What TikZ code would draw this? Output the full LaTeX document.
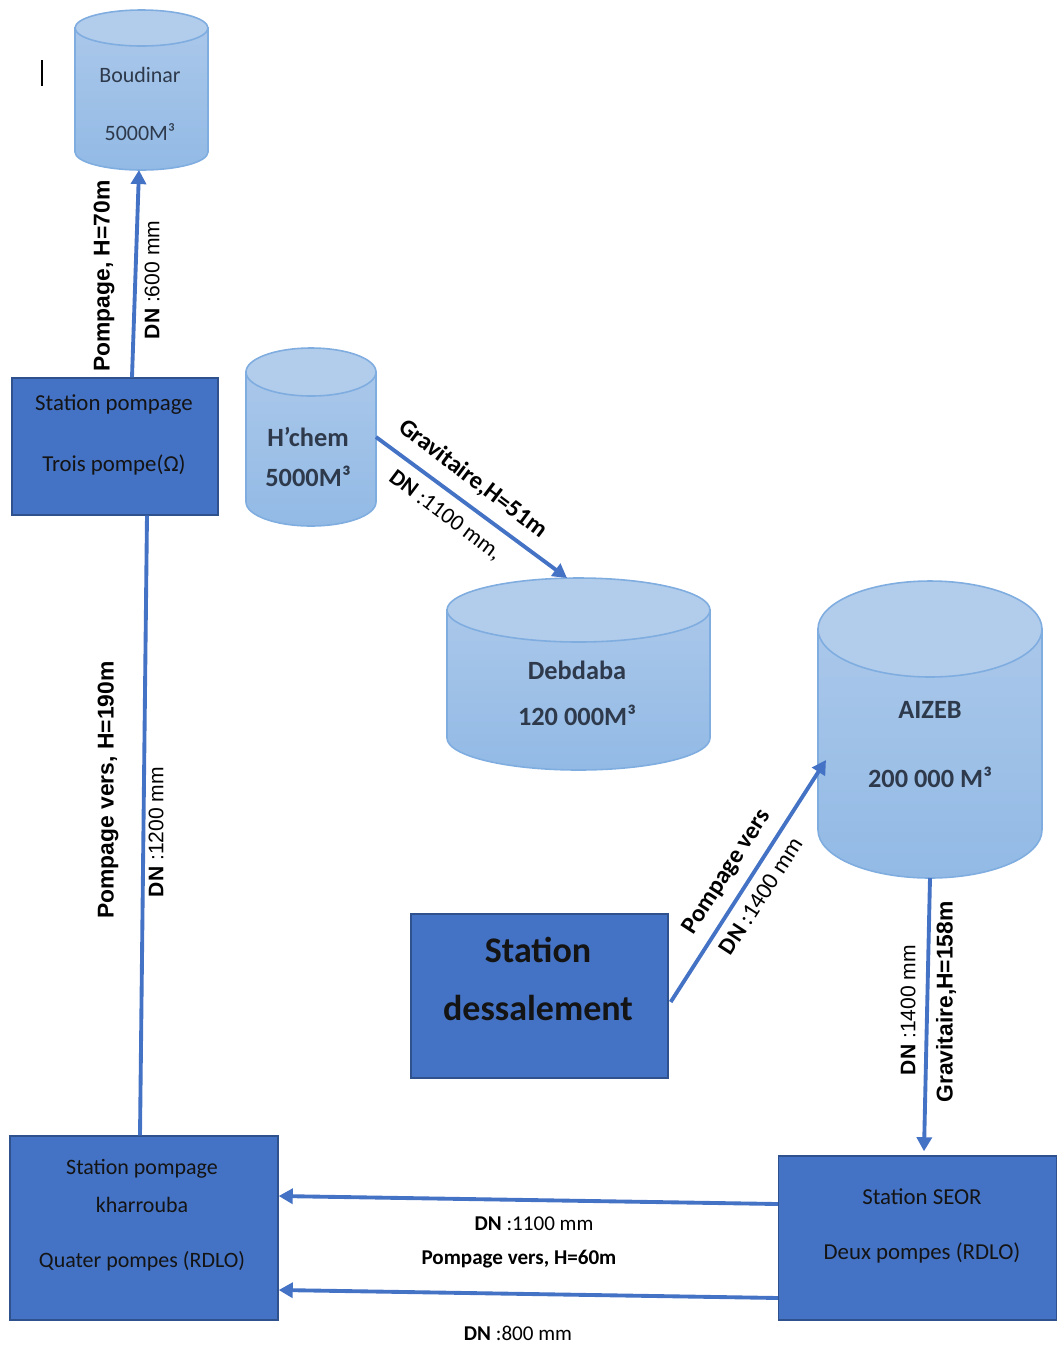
\documentclass[tikz,border=0pt]{standalone}
\usepackage{fontspec}
\setmainfont{Carlito}
\newfontfamily\arialfont{Liberation Sans}
\usetikzlibrary{arrows.meta}

\definecolor{boxblue}{HTML}{4472C4}
\definecolor{boxline}{HTML}{2F528F}
\definecolor{pipeblue}{HTML}{4472C4}
\definecolor{tanklid}{HTML}{B2CCEB}
\definecolor{tanktop}{HTML}{AAC7EA}
\definecolor{tankbot}{HTML}{92BAE5}
\definecolor{tankline}{HTML}{7FADE0}
\definecolor{tanktext}{HTML}{2E3A4C}

\tikzset{
  station/.style={draw=boxline, fill=boxblue, line width=0.8pt, inner sep=0pt},
  tankedge/.style={draw=tankline, line width=0.9pt},
  pipe/.style={draw=pipeblue, line width=2.2pt},
  flow/.style={pipe, -{Triangle[length=8pt,width=8.5pt]}},
  boxtext/.style={text=black!92, font=\fontsize{13}{15}\selectfont},
  tanktxt/.style={text=tanktext, font=\bfseries\fontsize{15}{18}\selectfont},
  vlabel/.style={rotate=90, font=\arialfont\bfseries\fontsize{13}{15}\selectfont},
  dnlabel/.style={rotate=90, font=\arialfont\fontsize{12}{14}\selectfont},
  slabel/.style={font=\fontsize{14}{16}\selectfont},
  blabel/.style={font=\fontsize{12}{14}\selectfont}
}

% name, cx, rx, y of lid, y of bottom, ry
\newcommand{\reservoir}[6]{%
  \draw[tankedge, top color=tanktop, bottom color=tankbot] (#2-#3,#4) -- (#2-#3,#5) arc (180:0:#3 and #6) -- (#2+#3,#4) -- cycle;
  \draw[tankedge, fill=tanklid] (#2,#4) ellipse (#3 and #6);
  \coordinate (#1) at (#2,{(#4+#5)/2});
  \coordinate (#1-t) at (#2,#4-#6);
  \coordinate (#1-b) at (#2,#5+#6);
  \coordinate (#1-e) at (#2+#3,{(#4+#5)/2});
  \coordinate (#1-w) at (#2-#3,{(#4+#5)/2});
}

\begin{document}
\begin{tikzpicture}[x=0.02cm, y=-0.02cm]
\useasboundingbox (0,0) rectangle (1058,1347);

\reservoir{bou}{141.5}{66.5}{28}{152}{18}
\reservoir{hch}{311}{65}{372}{502}{24}
\reservoir{deb}{578.5}{131.5}{610}{738}{32}
\reservoir{aiz}{930}{112}{629}{830}{48}

\node[station, minimum width=4.12cm, minimum height=2.74cm] (sp) at (115,446.5) {};
\node[station, minimum width=5.14cm, minimum height=3.28cm] (dess) at (539.5,996) {};
\node[station, minimum width=5.36cm, minimum height=3.68cm] (khar) at (144,1228) {};
\node[station, minimum width=5.56cm, minimum height=3.28cm] (seor) at (917.5,1238) {};

\draw[line width=0.8pt] (42,60) -- (42,86);

\node[tanktxt, font=\fontsize{12.5}{15}\selectfont] (bou-n) at (140,75) {Boudinar};
\node[tanktxt, font=\fontsize{12.5}{15}\selectfont] (bou-v) at (140,132) {5000M³};
\node[tanktxt] (hch-n) at (308,437) {H’chem};
\node[tanktxt] (hch-v) at (308,476) {5000M³};
\node[tanktxt] (deb-n) at (577,670) {Debdaba};
\node[tanktxt] (deb-v) at (577,715) {120 000M³};
\node[tanktxt] (aiz-n) at (930,710) {AIZEB};
\node[tanktxt] (aiz-v) at (930,777) {200 000 M³};

\node[boxtext] (sp-n) at (114,405) {Station pompage};
\node[boxtext] (sp-p) at (114,465) {Trois pompe(Ω)};
\node[boxtext, font=\bfseries\fontsize{20.5}{24}\selectfont] (dess-n) at (538,950) {Station};
\node[boxtext, font=\bfseries\fontsize{20.5}{24}\selectfont] (dess-p) at (538,1008) {dessalement};
\node[boxtext, font=\fontsize{12.5}{15}\selectfont] (khar-n) at (142,1169) {Station pompage};
\node[boxtext, font=\fontsize{12.5}{15}\selectfont] (khar-m) at (142,1205) {kharrouba};
\node[boxtext, font=\fontsize{12.5}{15}\selectfont] (khar-p) at (142,1261) {Quater pompes (RDLO)};
\node[boxtext] (seor-n) at (922,1197) {Station SEOR};
\node[boxtext] (seor-p) at (922,1253) {Deux pompes (RDLO)};

\draw[flow] ([xshift=0.34cm]sp.north) -- ([xshift=-0.05cm]bou-b);
\draw[pipe] ([xshift=0.64cm]sp.south) -- ([xshift=-0.08cm]khar.north);
\draw[flow] (hch-e) -- ([xshift=-0.23cm]deb-t);
\draw[flow] ([xshift=0.04cm,yshift=-0.12cm]dess.east) -- ([xshift=0.16cm,yshift=-0.61cm]aiz-w);
\draw[flow] (aiz-b) -- ([xshift=0.13cm,yshift=0.08cm]seor.north);
\draw[flow] ([yshift=0.68cm]seor.west) -- ([yshift=0.64cm]khar.east);
\draw[flow] ([yshift=-1.2cm]seor.west) -- ([yshift=-1.24cm]khar.east);

\node[vlabel] (l-bou) at (104,276) {Pompage, H=70m};
\node[dnlabel] (l-bou-dn) at (152,280) {\textbf{DN} :600 mm};
\node[vlabel] (l-khar) at (108,790) {Pompage vers, H=190m};
\node[dnlabel] (l-khar-dn) at (156,832) {\textbf{DN} :1200 mm};
\node[dnlabel] (l-seor-dn) at (908,1010) {\textbf{DN} :1400 mm};
\node[vlabel] (l-seor) at (946,1002) {Gravitaire,H=158m};
\node[slabel, rotate=-37] (l-hch) at (473,479) {\bfseries Gravitaire,H=51m};
\node[slabel, rotate=-37, font=\fontsize{13}{15}\selectfont] (l-hch-dn) at (445,516) {\textbf{DN} :1100 mm,};
\node[slabel, rotate=57] (l-dess) at (727,872) {\bfseries Pompage vers};
\node[slabel, rotate=57, font=\fontsize{13.5}{15}\selectfont] (l-dess-dn) at (761,896) {\textbf{DN} :1400 mm};
\node[blabel] (l-b1) at (534,1224) {\textbf{DN} :1100 mm};
\node[blabel] (l-b2) at (519,1259) {\bfseries Pompage vers, H=60m};
\node[blabel] (l-b3) at (518,1333) {\textbf{DN} :800 mm};
\end{tikzpicture}
\end{document}
